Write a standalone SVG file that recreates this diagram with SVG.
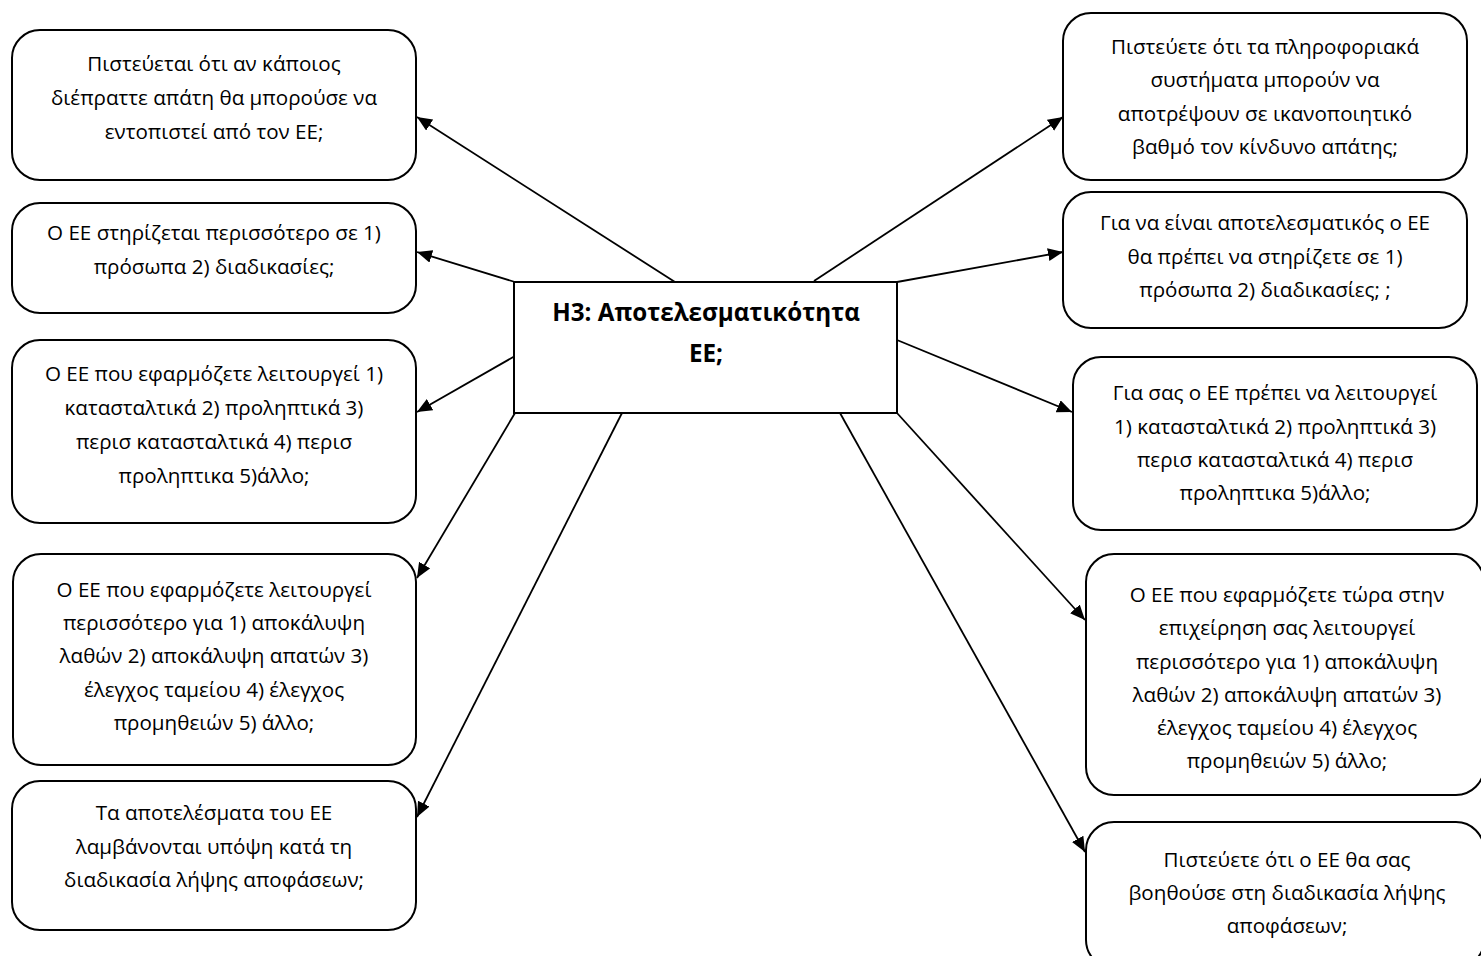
<svg xmlns="http://www.w3.org/2000/svg" width="1481" height="956" viewBox="0 0 1481 956">
<style>
.box{fill:#fff;stroke:#000;stroke-width:2}
.t{font-family:"Open Sans","Noto Sans","DejaVu Sans",sans-serif;font-size:20.6px;fill:#000;text-anchor:middle}
.b{font-family:"Open Sans","Noto Sans","DejaVu Sans",sans-serif;font-size:24.2px;font-weight:bold;fill:#000;text-anchor:middle}
.c{stroke:#000;stroke-width:1.8;fill:none;marker-end:url(#ah)}
</style>
<defs>
<marker id="ah" markerUnits="userSpaceOnUse" markerWidth="16" markerHeight="14" refX="15" refY="6.5" orient="auto"><path d="M0,0 L15,6.5 L0,13 z" fill="#000"/></marker>
</defs>
<rect width="1481" height="956" fill="#fff"/>
<g id="connectors">
<line class="c" x1="675" y1="282" x2="417" y2="117"/>
<line class="c" x1="515" y1="282" x2="417" y2="252"/>
<line class="c" x1="515" y1="356" x2="417" y2="412"/>
<line class="c" x1="515" y1="413" x2="417" y2="578"/>
<line class="c" x1="622" y1="413" x2="417" y2="817"/>
<line class="c" x1="814" y1="281" x2="1063" y2="117"/>
<line class="c" x1="897" y1="282" x2="1063" y2="252"/>
<line class="c" x1="897" y1="340" x2="1072" y2="412"/>
<line class="c" x1="897" y1="413" x2="1085" y2="620"/>
<line class="c" x1="840" y1="413" x2="1085" y2="852"/>
</g>
<g id="center">
<rect x="514" y="282" width="383" height="131" fill="#fff" stroke="#000" stroke-width="2"/>
<text class="b" x="706" y="321">H3: Αποτελεσματικότητα</text>
<text class="b" x="706" y="362">ΕΕ;</text>
</g>
<g id="L1">
<rect class="box" x="12" y="30" width="404" height="150" rx="28"/>
<text class="t" x="214" y="71">Πιστεύεται ότι αν κάποιος</text>
<text class="t" x="214" y="105">διέπραττε απάτη θα μπορούσε να</text>
<text class="t" x="214" y="139">εντοπιστεί από τον ΕΕ;</text>
</g>
<g id="L2">
<rect class="box" x="12" y="203" width="404" height="110" rx="28"/>
<text class="t" x="214" y="240">Ο ΕΕ στηρίζεται περισσότερο σε 1)</text>
<text class="t" x="214" y="274">πρόσωπα 2) διαδικασίες;</text>
</g>
<g id="L3">
<rect class="box" x="12" y="340" width="404" height="183" rx="28"/>
<text class="t" x="214" y="381">Ο ΕΕ που εφαρμόζετε λειτουργεί 1)</text>
<text class="t" x="214" y="415">κατασταλτικά 2) προληπτικά 3)</text>
<text class="t" x="214" y="449">περισ κατασταλτικά 4) περισ</text>
<text class="t" x="214" y="483">προληπτικα 5)άλλο;</text>
</g>
<g id="L4">
<rect class="box" x="13" y="554" width="403" height="211" rx="28"/>
<text class="t" x="214" y="597">Ο ΕΕ που εφαρμόζετε λειτουργεί</text>
<text class="t" x="214" y="630">περισσότερο για 1) αποκάλυψη</text>
<text class="t" x="214" y="663">λαθών 2) αποκάλυψη απατών 3)</text>
<text class="t" x="214" y="697">έλεγχος ταμείου 4) έλεγχος</text>
<text class="t" x="214" y="730">προμηθειών 5) άλλο;</text>
</g>
<g id="L5">
<rect class="box" x="12" y="781" width="404" height="149" rx="28"/>
<text class="t" x="214" y="820">Τα αποτελέσματα του ΕΕ</text>
<text class="t" x="214" y="854">λαμβάνονται υπόψη κατά τη</text>
<text class="t" x="214" y="887">διαδικασία λήψης αποφάσεων;</text>
</g>
<g id="R1">
<rect class="box" x="1063" y="13" width="404" height="167" rx="28"/>
<text class="t" x="1265" y="54">Πιστεύετε ότι τα πληροφοριακά</text>
<text class="t" x="1265" y="87">συστήματα μπορούν να</text>
<text class="t" x="1265" y="121">αποτρέψουν σε ικανοποιητικό</text>
<text class="t" x="1265" y="154">βαθμό τον κίνδυνο απάτης;</text>
</g>
<g id="R2">
<rect class="box" x="1063" y="192" width="404" height="136" rx="28"/>
<text class="t" x="1265" y="230">Για να είναι αποτελεσματικός ο ΕΕ</text>
<text class="t" x="1265" y="264">θα πρέπει να στηρίζετε σε 1)</text>
<text class="t" x="1265" y="297">πρόσωπα 2) διαδικασίες; ;</text>
</g>
<g id="R3">
<rect class="box" x="1073" y="357" width="404" height="173" rx="28"/>
<text class="t" x="1275" y="400">Για σας ο ΕΕ πρέπει να λειτουργεί</text>
<text class="t" x="1275" y="434">1) κατασταλτικά 2) προληπτικά 3)</text>
<text class="t" x="1275" y="467">περισ κατασταλτικά 4) περισ</text>
<text class="t" x="1275" y="500">προληπτικα 5)άλλο;</text>
</g>
<g id="R4">
<rect class="box" x="1086" y="554" width="398" height="241" rx="28"/>
<text class="t" x="1287" y="602">Ο ΕΕ που εφαρμόζετε τώρα στην</text>
<text class="t" x="1287" y="635">επιχείρηση σας λειτουργεί</text>
<text class="t" x="1287" y="669">περισσότερο για 1) αποκάλυψη</text>
<text class="t" x="1287" y="702">λαθών 2) αποκάλυψη απατών 3)</text>
<text class="t" x="1287" y="735">έλεγχος ταμείου 4) έλεγχος</text>
<text class="t" x="1287" y="768">προμηθειών 5) άλλο;</text>
</g>
<g id="R5">
<rect class="box" x="1086" y="822" width="398" height="146" rx="28"/>
<text class="t" x="1287" y="867">Πιστεύετε ότι ο ΕΕ θα σας</text>
<text class="t" x="1287" y="900">βοηθούσε στη διαδικασία λήψης</text>
<text class="t" x="1287" y="933">αποφάσεων;</text>
</g>
</svg>
